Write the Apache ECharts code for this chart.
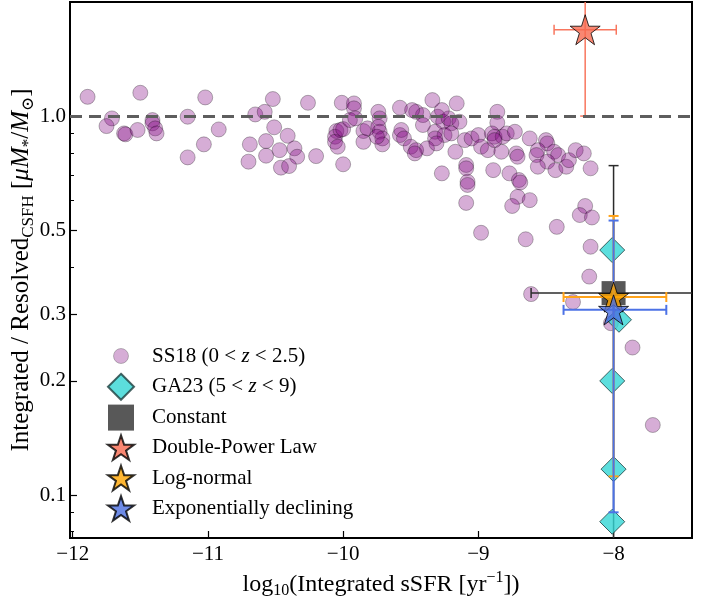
<!DOCTYPE html>
<html>
<head>
<meta charset="utf-8">
<script src="https://cdn.jsdelivr.net/npm/echarts/dist/echarts.min.js"></script>
<style>
  html, body { margin: 0; padding: 0; background: #fff; }
  #main { width: 711px; height: 597px; }
</style>
</head>
<body>
<div id="main"></div>
<script>
// SS18 sample (0 < z < 2.5): integrated sSFR vs mass ratio
var ss18Ssfr = [
  -11.89, -11.50, -11.02, -11.71, -11.75, -11.62, -11.61, -11.52, -11.41, -11.41,
  -11.39, -11.38, -11.15, -10.92, -11.03, -11.15, -10.52, -10.26, -10.01, -9.92,
  -9.92, -10.65, -10.58, -10.51, -10.41, -10.69, -10.57, -10.47, -10.36, -10.34,
  -10.20, -10.70, -10.57, -10.46, -10.40, -10.00, -10.05, -10.06, -10.06, -10.04,
  -10.02, -10.00, -9.95, -9.91, -9.85, -9.85, -9.82, -9.74, -9.73, -9.74,
  -9.73, -9.71, -9.71, -9.75, -9.58, -9.58, -9.57, -9.55, -9.34, -9.16,
  -8.86, -8.86, -9.46, -9.41, -9.41, -9.49, -9.30, -9.26, -9.22, -9.20,
  -9.14, -9.27, -9.32, -9.25, -9.20, -9.32, -9.50, -9.46, -9.38, -9.47,
  -9.31, -9.17, -9.10, -9.05, -9.00, -8.98, -8.93, -8.83, -8.90, -8.88,
  -8.82, -8.79, -8.73, -8.88, -8.72, -8.71, -8.62, -8.50, -8.49, -8.56,
  -8.57, -8.44, -8.41, -8.49, -8.56, -8.43, -8.35, -8.33, -8.28, -8.22,
  -8.17, -9.27, -8.89, -8.77, -9.09, -9.09, -9.08, -9.08, -9.09, -8.70,
  -8.69, -8.71, -8.75, -8.62, -8.98, -8.65, -8.42, -8.21, -8.25, -8.16,
  -8.17, -8.18, -8.61, -8.30, -8.02, -7.86, -7.71
];
var ss18Ratio = [
  1.124, 1.152, 1.120, 0.986, 0.941, 0.900, 0.895, 0.919, 0.976, 0.957,
  0.928, 0.900, 0.996, 0.922, 0.842, 0.778, 1.109, 1.084, 1.084, 1.080,
  1.048, 1.010, 1.026, 0.934, 0.887, 0.842, 0.859, 0.813, 0.822, 0.781,
  0.784, 0.758, 0.786, 0.731, 0.738, 0.746, 0.913, 0.882, 0.855, 0.830,
  0.919, 0.924, 0.976, 0.986, 0.913, 0.855, 0.928, 1.026, 0.986, 0.937,
  0.909, 0.873, 0.842, 0.882, 1.052, 0.891, 0.919, 0.873, 1.102, 1.080,
  1.026, 0.960, 1.026, 1.006, 0.947, 1.037, 0.996, 0.966, 0.986, 0.957,
  0.966, 1.037, 0.909, 0.891, 0.900, 0.873, 0.830, 0.813, 0.822, 0.797,
  0.847, 0.805, 0.864, 0.873, 0.891, 0.830, 0.813, 0.805, 0.900, 0.882,
  0.882, 0.900, 0.909, 0.864, 0.797, 0.781, 0.873, 0.864, 0.847, 0.813,
  0.789, 0.805, 0.789, 0.758, 0.735, 0.720, 0.735, 0.765, 0.813, 0.797,
  0.728, 0.706, 0.720, 0.706, 0.743, 0.728, 0.671, 0.658, 0.590, 0.678,
  0.668, 0.612, 0.579, 0.600, 0.492, 0.473, 0.510, 0.579, 0.548, 0.540,
  0.452, 0.377, 0.339, 0.323, 0.284, 0.245, 0.153
];

// GA23 sample (5 < z < 9)
var ga23Ssfr = [-8.01, -7.96, -8.01, -8.00, -8.01];
var ga23Ratio = [0.443, 0.290, 0.200, 0.117, 0.085];

// SFH models: [sSFR, ratio, sSFR low, sSFR high, ratio low, ratio high]
var constantPt = [-8.00, 0.341, -8.61, -7.20, 0.05, 0.74];
var dplPt      = [-8.21, 1.69, -8.44, -7.98, 1.00, 4.0];
var lognormPt  = [-8.00, 0.333, -8.37, -7.61, 0.112, 0.545];
var expdecPt   = [-8.00, 0.308, -8.37, -7.61, 0.090, 0.530];

var xTicks = [-12, -11, -10, -9, -8];
var yTicks = [0.1, 0.2, 0.3, 0.5, 1.0];
var yMinorTicks = [0.08, 0.09, 0.4, 0.6, 0.7, 0.8, 0.9];

var FONT = "'Liberation Serif', 'DejaVu Serif', serif";
var STAR = 'path://M50 0L61.8 35.1L98.5 35.1L68.8 56.7L80.2 91.6L50 70.1L19.8 91.6L31.2 56.7L1.5 35.1L38.2 35.1Z';
// smaller circle for the legend (marker is smaller than the other icons)
var LEGEND_DOT = 'image://data:image/svg+xml;charset=utf-8,' + encodeURIComponent(
  '<svg xmlns="http://www.w3.org/2000/svg" width="26" height="26" viewBox="0 0 26 26">' +
  '<circle cx="13" cy="13" r="7.5" fill="rgba(128,0,128,0.4)" stroke="rgba(0,0,0,0.3)" stroke-width="1"/></svg>');

function zip(a, b) {
  return a.map(function (v, i) { return [v, b[i]]; });
}

function errorBars(color, width) {
  return function (params, api) {
    var cs = params.coordSys;
    var left = cs.x, right = cs.x + cs.width, top = cs.y, bottom = cs.y + cs.height;
    function cx(v) { return Math.min(Math.max(v, left), right); }
    function cy(v) { return Math.min(Math.max(v, top), bottom); }
    var c = api.coord([api.value(0), api.value(1)]);
    var xl = api.coord([api.value(2), api.value(1)])[0];
    var xr = api.coord([api.value(3), api.value(1)])[0];
    var yl = api.coord([api.value(0), api.value(4)])[1];
    var yh = api.coord([api.value(0), api.value(5)])[1];
    var st = { stroke: color, lineWidth: width };
    var cap = 5;
    var kids = [
      { type: 'line', shape: { x1: cx(xl), y1: c[1], x2: cx(xr), y2: c[1] }, style: st },
      { type: 'line', shape: { x1: c[0], y1: cy(yl), x2: c[0], y2: cy(yh) }, style: st }
    ];
    if (xl >= left) kids.push({ type: 'line', shape: { x1: xl, y1: c[1] - cap, x2: xl, y2: c[1] + cap }, style: st });
    if (xr <= right) kids.push({ type: 'line', shape: { x1: xr, y1: c[1] - cap, x2: xr, y2: c[1] + cap }, style: st });
    if (yl <= bottom) kids.push({ type: 'line', shape: { x1: c[0] - cap, y1: yl, x2: c[0] + cap, y2: yl }, style: st });
    if (yh >= top) kids.push({ type: 'line', shape: { x1: c[0] - cap, y1: yh, x2: c[0] + cap, y2: yh }, style: st });
    return { type: 'group', children: kids };
  };
}

var chart = echarts.init(document.getElementById('main'));

var option = {
  animation: false,
  backgroundColor: '#fff',
  grid: {
    left: 70, right: 19, top: 2, bottom: 59,
    outerBoundsMode: 'none',
    containLabel: false,
    show: true, borderColor: '#000', borderWidth: 2, backgroundColor: 'transparent'
  },
  legend: {
    orient: 'vertical',
    left: 102,
    top: 338,
    itemWidth: 26,
    itemHeight: 26,
    itemGap: 3.8,
    data: [
      { name: 'SS18', icon: LEGEND_DOT },
      'GA23', 'Constant', 'Double-Power Law', 'Log-normal', 'Exponentially declining'
    ],
    formatter: function (n) {
      if (n === 'SS18') return '{g| }{t|SS18 (0 < }{i|z}{t| < 2.5)}';
      if (n === 'GA23') return '{g| }{t|GA23 (5 < }{i|z}{t| < 9)}';
      return '{g| }{t|' + n + '}';
    },
    textStyle: {
      color: '#000',
      fontFamily: FONT,
      fontSize: 21,
      rich: {
        g: { width: 13, fontSize: 21 },
        t: { fontFamily: FONT, fontSize: 21, color: '#000' },
        i: { fontFamily: FONT, fontSize: 21, color: '#000', fontStyle: 'italic' }
      }
    }
  },
  xAxis: {
    type: 'value',
    min: -12.02,
    max: -7.42,
    name: '{t|log}{s|10}{t|(Integrated sSFR [yr}{p|−1}{t|])}',
    nameLocation: 'middle',
    nameGap: 26,
    nameTextStyle: {
      rich: {
        t: { fontFamily: FONT, fontSize: 24, color: '#000' },
        s: { fontFamily: FONT, fontSize: 16, color: '#000', verticalAlign: 'bottom', padding: [13, 0, 0, 0] },
        p: { fontFamily: FONT, fontSize: 16, color: '#000', verticalAlign: 'top', padding: [0, 0, 11, 0] }
      }
    },
    axisLine: { lineStyle: { color: '#000', width: 2 } },
    axisTick: { inside: true, length: 7, customValues: xTicks, lineStyle: { color: '#000', width: 1.2 } },
    axisLabel: {
      customValues: xTicks,
      margin: 6,
      color: '#000',
      fontFamily: FONT,
      fontSize: 21,
      formatter: function (v) { return (v < 0 ? '−' : '') + Math.abs(v); }
    },
    splitLine: { show: false }
  },
  yAxis: [{
    type: 'log',
    logBase: 10,
    min: 0.077,
    max: 2.0,
    name: '{t|Integrated / Resolved}{s|CSFH}{t| [}{i|μM}{s|*}{t|/}{i|M}{s|⊙}{t|]}',
    nameLocation: 'middle',
    nameGap: 33,
    nameMoveOverlap: false,
    nameTextStyle: {
      rich: {
        t: { fontFamily: FONT, fontSize: 25, color: '#000' },
        i: { fontFamily: FONT, fontSize: 25, color: '#000', fontStyle: 'italic' },
        s: { fontFamily: FONT, fontSize: 17, color: '#000', verticalAlign: 'bottom', padding: [14, 0, 0, 0] }
      }
    },
    axisLine: { show: true, lineStyle: { color: '#000', width: 2 } },
    axisTick: { inside: true, length: 7, customValues: yTicks, lineStyle: { color: '#000', width: 1.2 } },
    axisLabel: {
      customValues: yTicks,
      margin: 4,
      color: '#000',
      fontFamily: FONT,
      fontSize: 21,
      formatter: function (v) { return Number(v).toFixed(1); }
    },
    splitLine: { show: false }
  }, {
    type: 'log',
    logBase: 10,
    min: 0.077,
    max: 2.0,
    position: 'left',
    axisLine: { show: false },
    axisTick: { show: true, inside: true, length: 4, customValues: yMinorTicks, lineStyle: { color: '#000', width: 1 } },
    axisLabel: { show: false },
    splitLine: { show: false }
  }],
  series: [
    {
      name: 'SS18',
      type: 'scatter',
      z: 2,
      symbol: 'circle',
      symbolSize: 15,
      itemStyle: { color: 'rgba(128,0,128,0.4)', borderColor: 'rgba(0,0,0,0.35)', borderWidth: 1 },
      data: zip(ss18Ssfr, ss18Ratio),
      markLine: {
        silent: true,
        symbol: 'none',
        label: { show: false },
        lineStyle: { color: '#5e5e5e', width: 3, type: [12, 7] },
        data: [{ yAxis: 1 }],
        z: 8
      }
    },
    {
      name: 'constErr',
      type: 'custom',
      z: 3,
      renderItem: errorBars('#2b2b2b', 1.5),
      encode: { x: 0, y: 1 },
      data: [constantPt]
    },
    {
      name: 'dplErr',
      type: 'custom',
      z: 3,
      renderItem: errorBars('#f8765e', 1.5),
      encode: { x: 0, y: 1 },
      data: [dplPt]
    },
    {
      name: 'GA23',
      type: 'scatter',
      z: 4,
      symbol: 'diamond',
      symbolSize: 25,
      itemStyle: { color: '#33d6d4', borderColor: '#1d3d3d', borderWidth: 1 },
      data: zip(ga23Ssfr, ga23Ratio)
    },
    {
      name: 'Constant',
      type: 'scatter',
      z: 5,
      symbol: 'rect',
      symbolSize: 24,
      itemStyle: { color: '#2e2e2e' },
      data: [constantPt.slice(0, 2)]
    },
    {
      name: 'lognormErr',
      type: 'custom',
      z: 6,
      renderItem: errorBars('#ffa31a', 2),
      encode: { x: 0, y: 1 },
      data: [lognormPt]
    },
    {
      name: 'expdecErr',
      type: 'custom',
      z: 6,
      renderItem: errorBars('#4c72e6', 2),
      encode: { x: 0, y: 1 },
      data: [expdecPt]
    },
    {
      name: 'Double-Power Law',
      type: 'scatter',
      z: 7,
      symbol: STAR,
      symbolSize: 30,
      itemStyle: { color: '#f8694f', borderColor: '#000', borderWidth: 1 },
      data: [dplPt.slice(0, 2)]
    },
    {
      name: 'Log-normal',
      type: 'scatter',
      z: 7,
      symbol: STAR,
      symbolSize: 30,
      itemStyle: { color: '#ffa500', borderColor: '#000', borderWidth: 1 },
      data: [lognormPt.slice(0, 2)]
    },
    {
      name: 'Exponentially declining',
      type: 'scatter',
      z: 7,
      symbol: STAR,
      symbolSize: 30,
      itemStyle: { color: '#4a6ee0', borderColor: '#000', borderWidth: 1 },
      data: [expdecPt.slice(0, 2)]
    }
  ]
};

chart.setOption(option);
</script>
</body>
</html>
